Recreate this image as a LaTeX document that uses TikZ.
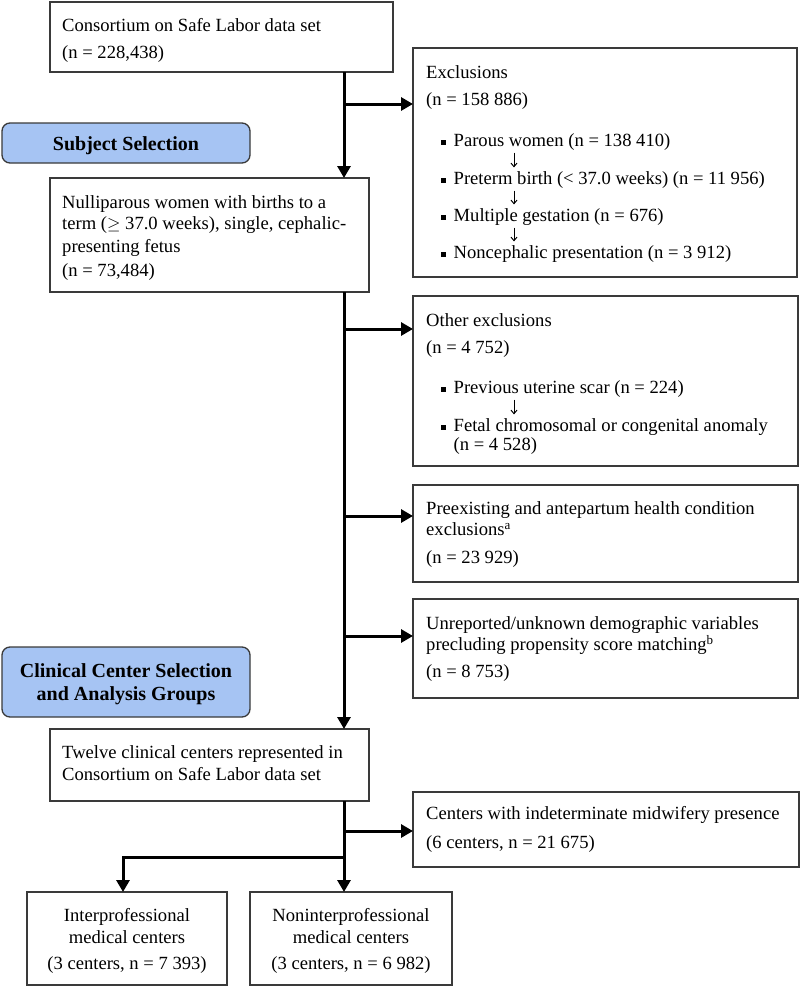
\documentclass[tikz,border=0pt]{standalone}
\usepackage{fontspec}
\setmainfont{Liberation Serif}
\usetikzlibrary{arrows.meta}
\definecolor{edge}{HTML}{3A3A3A}
\definecolor{bluefill}{HTML}{A6C4F3}
\begin{document}
\begin{tikzpicture}[x=1pt,y=-1pt,
  box/.style={draw=edge, line width=1.3pt, rectangle, inner sep=0pt, outer sep=0pt, anchor=north west},
  bluebox/.style={draw=edge, line width=1.3pt, fill=bluefill, rounded corners=8pt, inner sep=0pt, outer sep=0pt, anchor=north west},
  txt/.style={anchor=base west, inner sep=0pt, font=\fontsize{18.6pt}{22pt}\selectfont},
  ctxt/.style={anchor=base, inner sep=0pt, font=\fontsize{18.6pt}{22pt}\selectfont},
  btxt/.style={anchor=base, inner sep=0pt, font=\fontsize{20pt}{23pt}\selectfont\bfseries},
  arr/.style={line width=3pt, -{Triangle[length=12pt,width=13pt]}, line join=miter},
  small/.style={line width=1pt, -{Straight Barb[length=3.5pt,width=6pt]}, shorten <=2pt, shorten >=4pt}
]
\useasboundingbox (0,0) rectangle (800,988);
\newcommand{\bul}{\rule[2pt]{5pt}{5pt}\hspace{8pt}}

% boxes
\node[box, minimum width=343pt, minimum height=70pt] (b1) at (50,2) {};
\node[box, minimum width=384pt, minimum height=229pt] (excl) at (413,48) {};
\node[bluebox, minimum width=248pt, minimum height=40pt] (subj) at (2,123) {};
\node[box, minimum width=319pt, minimum height=114pt] (b2) at (50,178) {};
\node[box, minimum width=385pt, minimum height=170pt] (other) at (413,296) {};
\node[box, minimum width=385pt, minimum height=97pt] (pre) at (413,485) {};
\node[box, minimum width=385pt, minimum height=99pt] (unrep) at (413,599) {};
\node[bluebox, minimum width=248pt, minimum height=70pt] (clin) at (2,647) {};
\node[box, minimum width=319pt, minimum height=72pt] (twelve) at (50,729) {};
\node[box, minimum width=386pt, minimum height=75pt] (cent) at (413,792) {};
\node[box, minimum width=200pt, minimum height=93pt] (inter) at (27,892) {};
\node[box, minimum width=202pt, minimum height=93pt] (nonint) at (250,892) {};

% texts
\node[txt] (t1a) at (62,31.5) {Consortium on Safe Labor data set};
\node[txt] (t1b) at (62,58.5) {(n = 228,438)};

\node[btxt] (ts) at (126,150) {Subject Selection};

\node[txt] (t2a) at (62,208.5) {Nulliparous women with births to a};
\node[txt] (t2b) at (62,229.5) {term ($\geq$ 37.0 weeks), single, cephalic-};
\node[txt] (t2c) at (62,252.5) {presenting fetus};
\node[txt] (t2d) at (62,276.5) {(n = 73,484)};

\node[txt] (e1) at (426,78.5) {Exclusions};
\node[txt] (e2) at (426,105.5) {(n = 158 886)};
\node[txt] (e3) at (440.5,146.5) {\bul Parous women (n = 138 410)};
\node[txt] (e4) at (440.5,184.5) {\bul Preterm birth (< 37.0 weeks) (n = 11 956)};
\node[txt] (e5) at (440.5,221.5) {\bul Multiple gestation (n = 676)};
\node[txt] (e6) at (440.5,258.5) {\bul Noncephalic presentation (n = 3 912)};

\node[txt] (o1) at (426,326.5) {Other exclusions};
\node[txt] (o2) at (426,353.5) {(n = 4 752)};
\node[txt] (o3) at (440.5,393.5) {\bul Previous uterine scar (n = 224)};
\node[txt] (o4) at (440.5,431.5) {\bul Fetal chromosomal or congenital anomaly};
\node[txt] (o5) at (453.5,450.5) {(n = 4 528)};

\node[txt] (p1) at (426,514.5) {Preexisting and antepartum health condition};
\node[txt] (p2) at (426,535.5) {exclusions\textsuperscript{a}};
\node[txt] (p3) at (426,563.5) {(n = 23 929)};

\node[txt] (u1) at (426,629.5) {Unreported/unknown demographic variables};
\node[txt] (u2) at (426,650.5) {precluding propensity score matching\textsuperscript{b}};
\node[txt] (u3) at (426,677.5) {(n = 8 753)};

\node[btxt] (tc1) at (126,677) {Clinical Center Selection};
\node[btxt] (tc2) at (126,700) {and Analysis Groups};

\node[txt] (w1) at (62,758.5) {Twelve clinical centers represented in};
\node[txt] (w2) at (62,780) {Consortium on Safe Labor data set};

\node[txt] (c1) at (426,819.5) {Centers with indeterminate midwifery presence};
\node[txt] (c2) at (426,848.5) {(6 centers, n = 21 675)};

\node[ctxt] (i1) at (127,921.5) {Interprofessional};
\node[ctxt] (i2) at (127,943.5) {medical centers};
\node[ctxt] (i3) at (127,969.5) {(3 centers, n = 7 393)};

\node[ctxt] (n1) at (351,921.5) {Noninterprofessional};
\node[ctxt] (n2) at (351,943.5) {medical centers};
\node[ctxt] (n3) at (351,969.5) {(3 centers, n = 6 982)};

% connectors
\coordinate (spine) at (344,0);
\coordinate (ax) at (514,0);
\coordinate (ae) at (413,104);
\coordinate (ao) at (413,329);
\coordinate (ap) at (413,516);
\coordinate (au) at (413,636);
\coordinate (ac) at (413,831);
\coordinate (lb) at (123,857);

\draw[arr] (b1.south -| spine) -- (b2.north -| spine);
\draw[arr] (spine |- ae) -- (ae);
\draw[arr] (b2.south -| spine) -- (twelve.north -| spine);
\draw[arr] (spine |- ao) -- (ao);
\draw[arr] (spine |- ap) -- (ap);
\draw[arr] (spine |- au) -- (au);
\draw[arr] (twelve.south -| spine) -- (nonint.north -| spine);
\draw[arr] (spine |- ac) -- (ac);
\draw[arr] ([xshift=1.5pt]spine |- lb) -- (lb) -- (inter.north -| lb);

% small arrows between list items
\draw[small] (e3.south -| ax) -- (e4.north -| ax);
\draw[small] (e4.south -| ax) -- (e5.north -| ax);
\draw[small] (e5.south -| ax) -- (e6.north -| ax);
\draw[small] (o3.south -| ax) -- (o4.north -| ax);
\end{tikzpicture}
\end{document}
